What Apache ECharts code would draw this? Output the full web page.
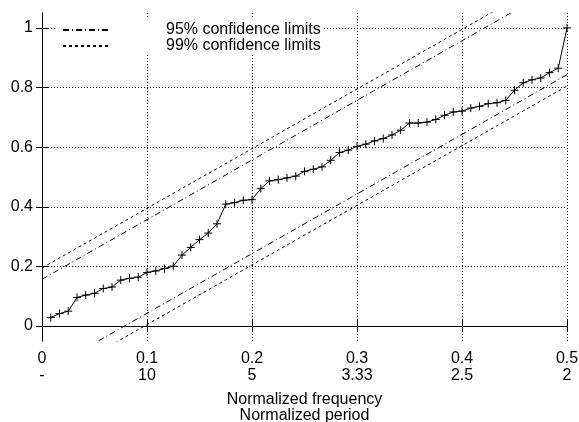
<!DOCTYPE html>
<html>
<head>
<meta charset="utf-8">
<script src="https://cdn.jsdelivr.net/npm/echarts@6/dist/echarts.min.js"></script>
<style>
  html, body { margin: 0; padding: 0; background: #fff; }
  #chart { width: 579px; height: 422px; }
</style>
</head>
<body>
<div id="chart"></div>
<script>
// cumulative periodogram, one value per frequency k/120
const nSamples = 120
const cumPower = [
  0.029, 0.042, 0.050, 0.096, 0.104, 0.110, 0.126, 0.131, 0.154, 0.160,
  0.164, 0.180, 0.185, 0.193, 0.201, 0.238, 0.264, 0.290, 0.312, 0.343,
  0.409, 0.414, 0.422, 0.424, 0.461, 0.487, 0.491, 0.497, 0.503, 0.519,
  0.526, 0.534, 0.556, 0.582, 0.590, 0.603, 0.610, 0.621, 0.629, 0.641,
  0.657, 0.681, 0.681, 0.684, 0.693, 0.707, 0.718, 0.721, 0.731, 0.737,
  0.746, 0.749, 0.757, 0.791, 0.816, 0.826, 0.832, 0.850, 0.865, 1.0
]

// confidence limit lines (end points at f = 0 and f = 0.5)
const upper95 = [[0, 0.157], [0.5, 1.157]]
const lower95 = [[0, -0.157], [0.5, 0.843]]
const upper99 = [[0, 0.195], [0.5, 1.195]]
const lower99 = [[0, -0.195], [0.5, 0.805]]

// tick labels
const freqLabels = ['0', '0.1', '0.2', '0.3', '0.4', '0.5']
const periodLabels = ['-', '10', '5', '3.33', '2.5', '2']
const yTicks = [0, 0.2, 0.4, 0.6, 0.8, 1]

const name95 = '95% confidence limits'
const name99 = '99% confidence limits'

const font = '"Liberation Sans", Arial, Helvetica, sans-serif'
const dashDot = [6, 3, 1, 3]
const dashed = [3, 3]

const points = cumPower.map((v, i) => [(i + 1) / nSamples, v])

const chart = echarts.init(document.getElementById('chart'))

const boxLine = { show: true, lineStyle: { color: '#000', width: 1 } }
const innerTick = { show: true, inside: true, length: 6, lineStyle: { color: '#000', width: 1 } }

function limitSeries(name, data, dash) {
  return {
    name: name,
    type: 'line',
    data: data,
    symbol: 'none',
    clip: true,
    lineStyle: { color: '#000', width: 1, type: dash },
    itemStyle: { color: 'transparent', opacity: 0 }
  }
}

chart.setOption({
  animation: false,
  backgroundColor: '#fff',
  textStyle: { fontFamily: font },
  grid: { left: 42, right: 12, top: 13, bottom: 81, outerBoundsMode: 'none', containLabel: false },
  legend: {
    orient: 'vertical',
    left: 57,
    top: 18,
    padding: [4, 2, 0, 5],
    itemGap: 0,
    itemWidth: 46,
    itemHeight: 10,
    backgroundColor: '#fff',
    data: [name95, name99],
    itemStyle: { opacity: 0 },
    textStyle: {
      fontSize: 16,
      lineHeight: 14,
      color: '#000',
      fontFamily: font,
      padding: [0, 0, 0, 52]
    }
  },
  xAxis: [
    {
      type: 'value',
      min: 0,
      max: 0.5,
      interval: 0.1,
      name: 'Normalized frequency\nNormalized period',
      nameLocation: 'middle',
      nameGap: 51,
      nameTextStyle: { fontSize: 16, lineHeight: 16, color: '#000', fontFamily: font },
      axisLine: boxLine,
      axisTick: innerTick,
      axisLabel: {
        fontSize: 16,
        lineHeight: 17,
        margin: 9,
        color: '#000',
        fontFamily: font,
        showMinLabel: true,
        showMaxLabel: true,
        formatter: v => {
          const i = Math.round(v * 10)
          return freqLabels[i] + '\n' + periodLabels[i]
        }
      },
      splitLine: { show: true, lineStyle: { color: '#000', width: 1, type: [1, 2] } }
    },
    {
      type: 'value',
      position: 'top',
      min: 0,
      max: 0.5,
      interval: 0.1,
      axisLine: boxLine,
      axisTick: innerTick,
      axisLabel: { show: false },
      splitLine: { show: false }
    }
  ],
  yAxis: [
    {
      type: 'value',
      min: -0.05,
      max: 1.05,
      axisLine: boxLine,
      axisTick: Object.assign({ customValues: yTicks }, innerTick),
      axisLabel: {
        customValues: yTicks,
        fontSize: 16,
        margin: 9,
        color: '#000',
        fontFamily: font,
        formatter: v => String(Math.round(v * 10) / 10)
      },
      splitLine: { show: true, lineStyle: { color: '#000', width: 1, type: [1, 2] } }
    },
    {
      type: 'value',
      position: 'right',
      min: -0.05,
      max: 1.05,
      axisLine: boxLine,
      axisTick: Object.assign({ customValues: yTicks }, innerTick),
      axisLabel: { show: false },
      splitLine: { show: false }
    }
  ],
  series: [
    limitSeries(name95, upper95, dashDot),
    limitSeries(name95, lower95, dashDot),
    limitSeries(name99, upper99, dashed),
    limitSeries(name99, lower99, dashed),
    {
      name: 'cumulative periodogram',
      type: 'line',
      data: points,
      symbol: 'path://M0,5L10,5M5,0L5,10',
      symbolSize: 8,
      clip: false,
      z: 5,
      lineStyle: { color: '#000', width: 1 },
      itemStyle: { color: 'none', borderColor: '#000', borderWidth: 1 }
    }
  ]
})
</script>
</body>
</html>
